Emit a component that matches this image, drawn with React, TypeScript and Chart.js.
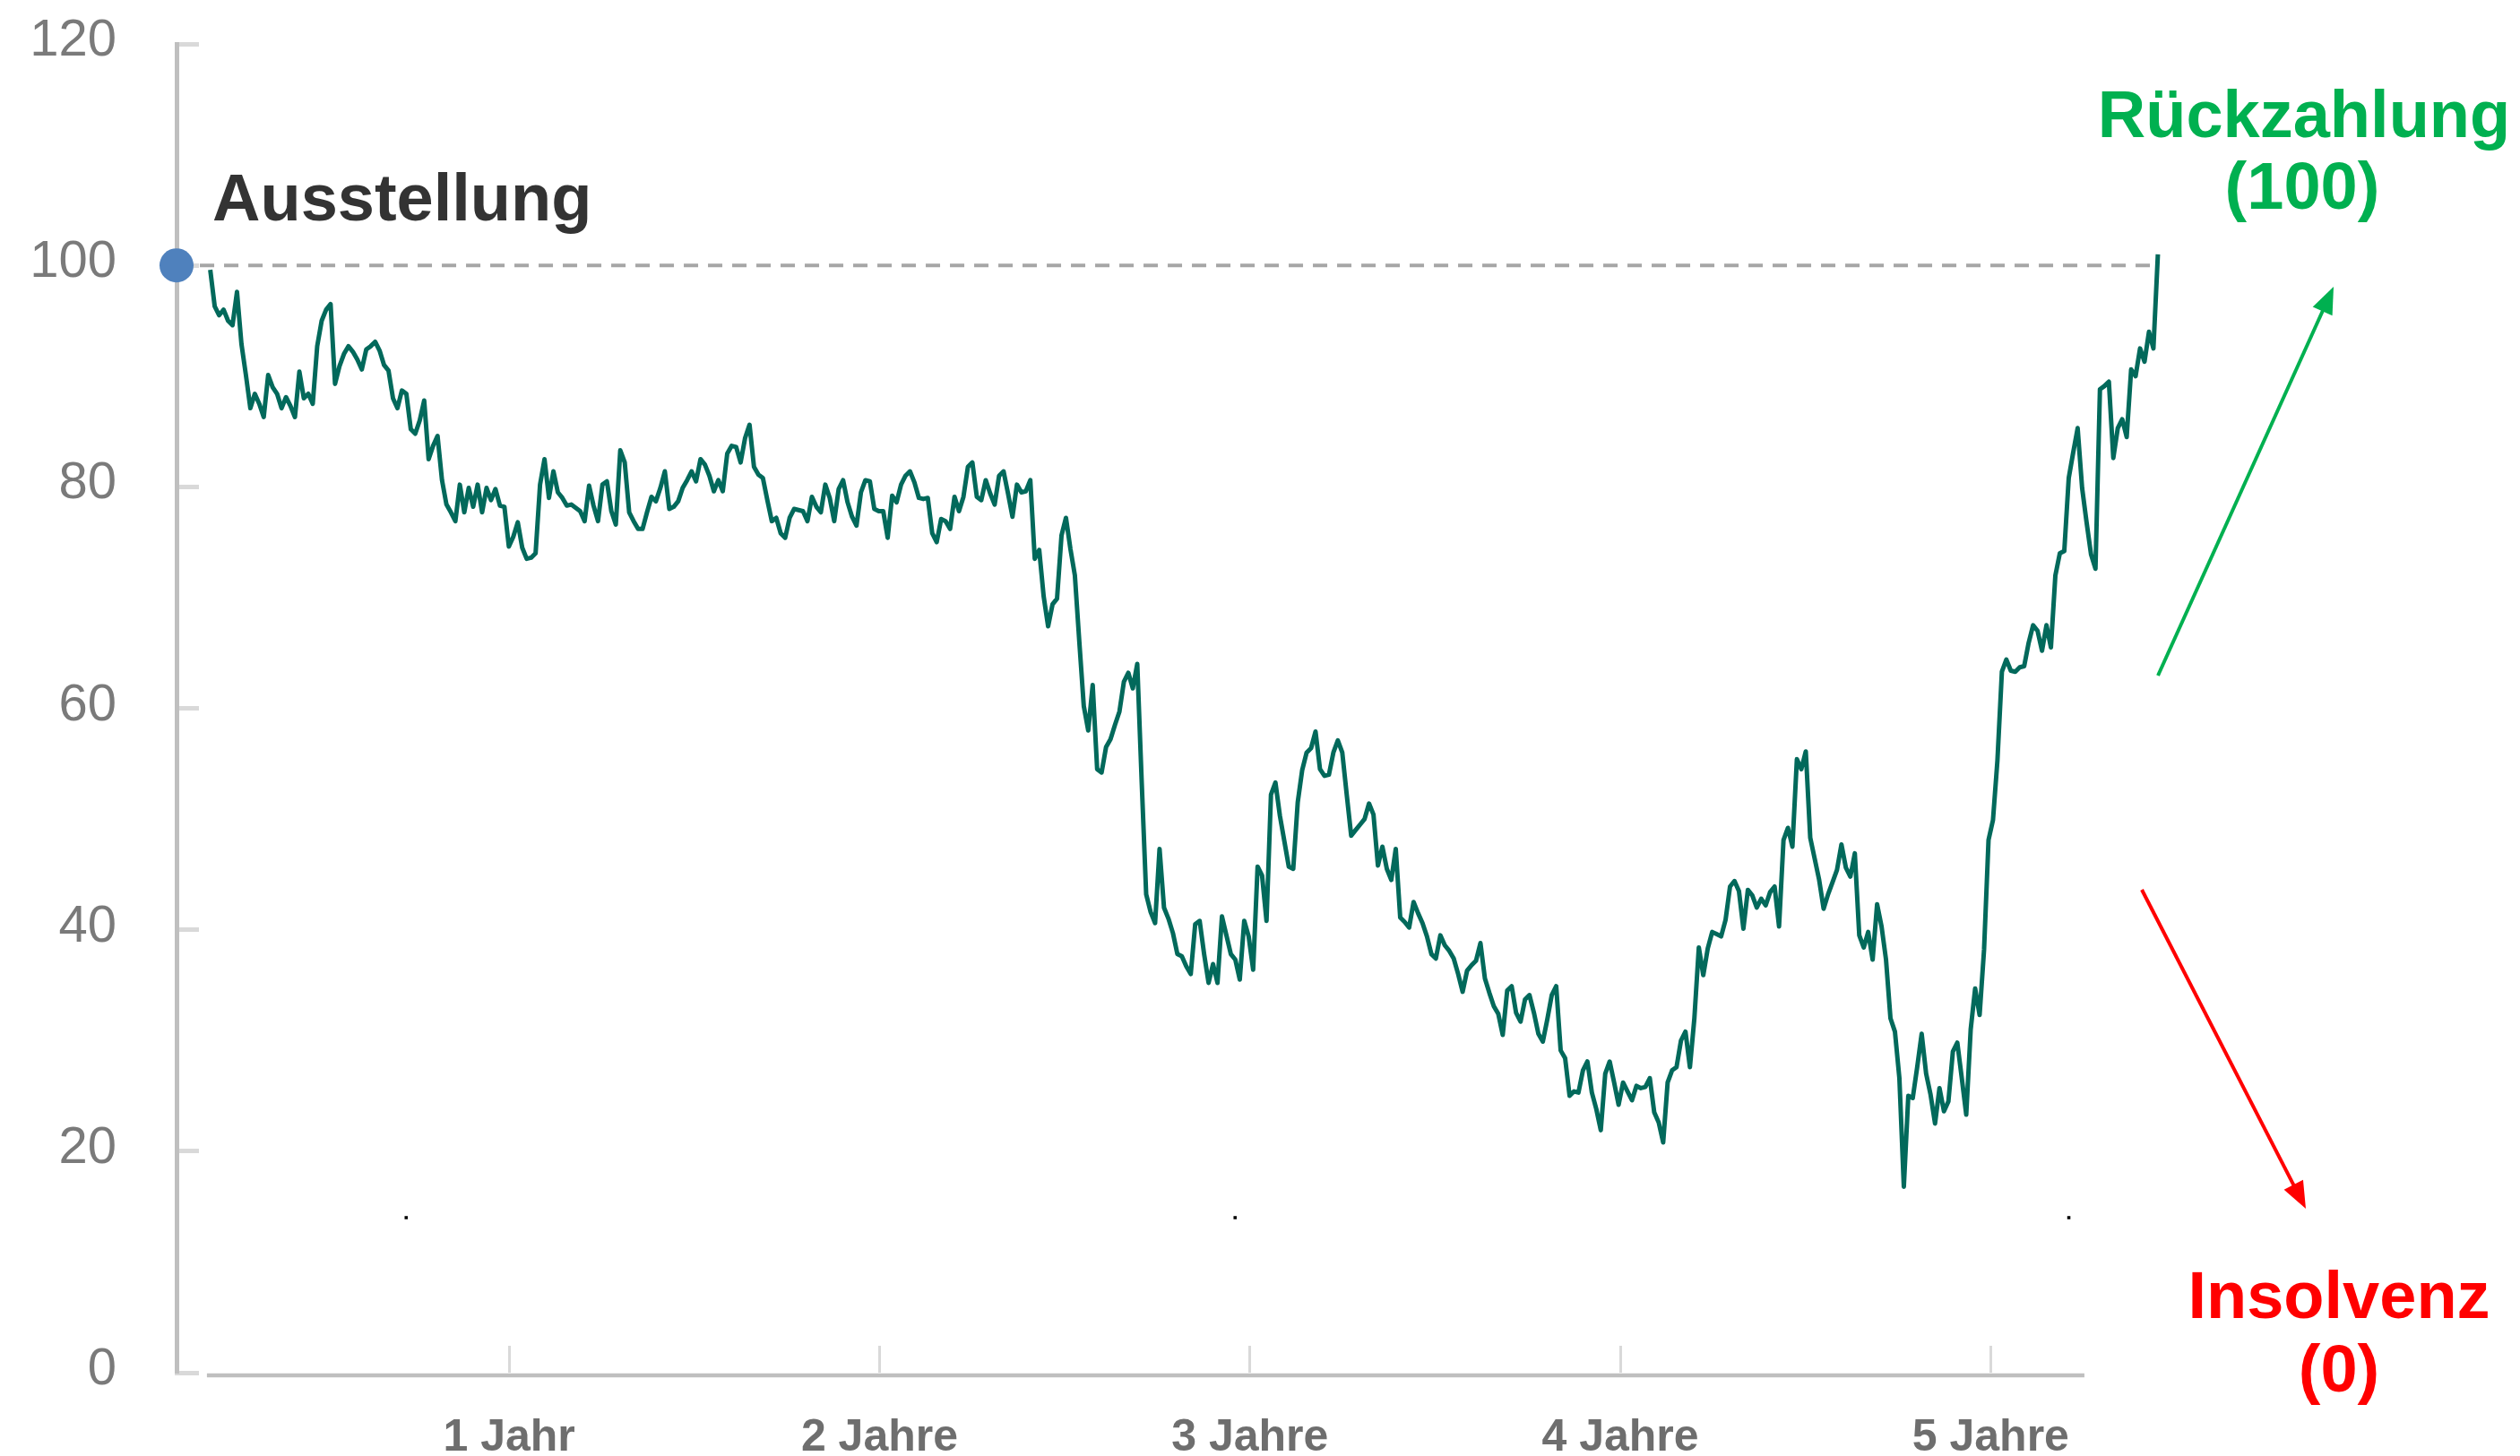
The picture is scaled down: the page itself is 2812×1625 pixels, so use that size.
import React, { useEffect, useRef } from "react";
import { Chart, registerables } from "chart.js";

Chart.register(...registerables);

// ---------- data ----------
const X_TICKS = [1, 2, 3, 4, 5];
const X_TICK_LABELS = ["1 Jahr", "2 Jahre", "3 Jahre", "4 Jahre", "5 Jahre"];
const Y_MIN = 0;
const Y_MAX = 120;
const Y_STEP = 20;
const X_MIN = 0.102; // years
const X_MAX = 5.5; // years

// observation dates: first observation (years after issue) and spacing between observations
const FIRST_OBS_YEAR = 0.193;
const OBS_STEP_YEARS = 0.012033;

// bond price (per cent of nominal), one reading per observation
const PRICES = [
  99.6, 96.3, 95.5, 96.0, 95.0, 94.6, 97.6, 92.9, 90.1, 87.1,
  88.4, 87.5, 86.3, 90.1, 89.0, 88.4, 87.1, 88.1, 87.3, 86.3,
  90.4, 88.0, 88.4, 87.5, 92.7, 95.0, 96.0, 96.5, 89.3, 90.9,
  92.0, 92.7, 92.2, 91.5, 90.6, 92.4, 92.7, 93.1, 92.3, 91.0,
  90.5, 88.0, 87.1, 88.7, 88.4, 85.2, 84.8, 86.0, 87.8, 82.5,
  83.7, 84.6, 80.6, 78.4, 77.7, 76.9, 80.2, 77.7, 79.9, 78.2,
  80.2, 77.7, 79.9, 78.8, 79.8, 78.3, 78.2, 74.6, 75.5, 76.8,
  74.5, 73.5, 73.6, 74.0, 80.2, 82.5, 79.0, 81.4, 79.5, 79.0,
  78.3, 78.4, 78.1, 77.8, 76.9, 80.1, 78.3, 76.9, 80.2, 80.5,
  77.8, 76.6, 83.3, 82.2, 77.7, 76.9, 76.2, 76.2, 77.7, 79.1,
  78.7, 79.9, 81.4, 78.0, 78.2, 78.7, 79.9, 80.6, 81.4, 80.5,
  82.5, 82.0, 81.0, 79.6, 80.6, 79.6, 83.0, 83.7, 83.6, 82.2,
  84.4, 85.6, 81.8, 81.1, 80.8, 78.8, 76.9, 77.2, 75.8, 75.4,
  77.2, 78.0, 77.9, 77.8, 76.9, 79.1, 78.2, 77.7, 80.2, 79.0,
  76.9, 79.8, 80.6, 78.6, 77.3, 76.5, 79.5, 80.6, 80.5, 78.0,
  77.8, 77.8, 75.4, 79.2, 78.6, 80.2, 81.0, 81.4, 80.4, 79.0,
  78.9, 79.0, 75.8, 75.0, 77.1, 76.9, 76.2, 79.1, 77.8, 79.1,
  81.8, 82.2, 79.1, 78.8, 80.6, 79.4, 78.4, 81.0, 81.4, 79.4,
  77.3, 80.2, 79.5, 79.6, 80.6, 73.5, 74.3, 70.1, 67.4, 69.4,
  69.9, 75.6, 77.2, 74.4, 72.0, 66.0, 60.2, 58.0, 62.1, 54.5,
  54.2, 56.5, 57.2, 58.5, 59.7, 62.4, 63.2, 61.8, 64.0, 53.3,
  43.2, 41.6, 40.6, 47.3, 42.0, 41.0, 39.7, 37.8, 37.6, 36.7,
  36.0, 40.5, 40.8, 37.8, 35.2, 36.9, 35.2, 41.2, 39.5, 37.8,
  37.3, 35.5, 40.8, 39.4, 36.4, 45.7, 44.9, 40.8, 52.2, 53.3,
  50.3, 48.0, 45.7, 45.5, 51.5, 54.4, 56.0, 56.4, 57.9, 54.5,
  53.9, 54.0, 56.0, 57.1, 56.0, 52.2, 48.5, 49.0, 49.5, 50.0,
  51.4, 50.4, 45.8, 47.5, 45.5, 44.5, 47.3, 41.1, 40.7, 40.2,
  42.5, 41.5, 40.6, 39.4, 37.8, 37.4, 39.5, 38.6, 38.1, 37.4,
  36.0, 34.4, 36.3, 36.8, 37.2, 38.8, 35.6, 34.3, 33.1, 32.4,
  30.5, 34.5, 34.9, 32.5, 31.7, 33.7, 34.1, 32.5, 30.6, 29.9,
  31.9, 34.1, 34.9, 29.1, 28.4, 25.0, 25.4, 25.3, 27.3, 28.1,
  25.3, 23.8, 21.9, 27.0, 28.1, 26.2, 24.2, 26.2, 25.4, 24.6,
  25.9, 25.7, 25.8, 26.6, 23.5, 22.6, 20.8, 26.2, 27.3, 27.6,
  30.0, 30.8, 27.6, 32.0, 38.4, 35.9, 38.3, 39.8, 39.6, 39.4,
  40.9, 43.9, 44.4, 43.5, 40.1, 43.6, 43.1, 42.0, 42.8, 42.2,
  43.4, 43.9, 40.3, 48.1, 49.2, 47.5, 55.4, 54.5, 56.1, 48.3,
  46.4, 44.5, 41.9, 43.2, 44.3, 45.4, 47.7, 45.6, 44.8, 46.9,
  39.5, 38.4, 39.8, 37.3, 42.3, 40.3, 37.3, 32.0, 30.8, 26.6,
  16.8, 25.0, 24.8, 27.6, 30.6, 27.0, 25.1, 22.5, 25.7, 23.6,
  24.5, 29.0, 29.8, 26.6, 23.3, 31.0, 34.7, 32.3, 38.2, 48.1,
  49.9, 55.3, 63.3, 64.4, 63.4, 63.3, 63.7, 63.8, 65.9, 67.5,
  67.0, 65.2, 67.5, 65.5, 72.0, 74.0, 74.2, 80.8, 83.1, 85.3,
  79.9, 76.8, 73.9, 72.6, 88.8, 89.1, 89.5, 82.6, 85.3, 86.1,
  84.5, 90.6, 90.0, 92.5, 91.3, 94.0, 92.5, 101.0,
];

// issue point (Ausstellung) at par
const ISSUE_YEAR = [0.102];
const ISSUE_PRICE = [100];
// dashed par line (100) from issue to maturity
const PAR_YEARS = [0.165, 5.451];
const PAR_PRICES = [100, 100];
// small black marks in the picture
const MARK_YEARS = [0.722, 2.96, 5.211];
const MARK_VALUES = [14, 14, 14];
// extent of the drawn horizontal axis line, in years
const AXIS_LINE_YEARS = [0.184, 5.253];

// ---------- styles ----------
const FONT = '"Liberation Sans", Arial, Helvetica, sans-serif';
const LINE_COLOR = "#02695B";
const GREEN = "#00B050";
const RED = "#FF0000";

function arrow(ctx: CanvasRenderingContext2D, x1: number, y1: number, x2: number, y2: number, color: string) {
  const dx = x2 - x1;
  const dy = y2 - y1;
  const len = Math.hypot(dx, dy);
  const ux = dx / len;
  const uy = dy / len;
  const headL = 30;
  const headW = 12;
  const bx = x2 - ux * headL;
  const by = y2 - uy * headL;
  ctx.save();
  ctx.strokeStyle = color;
  ctx.fillStyle = color;
  ctx.lineWidth = 4;
  ctx.beginPath();
  ctx.moveTo(x1, y1);
  ctx.lineTo(bx + ux * 2, by + uy * 2);
  ctx.stroke();
  ctx.beginPath();
  ctx.moveTo(x2, y2);
  ctx.lineTo(bx - uy * headW, by + ux * headW);
  ctx.lineTo(bx + uy * headW, by - ux * headW);
  ctx.closePath();
  ctx.fill();
  ctx.restore();
}

const annotations = {
  id: "annotations",
  beforeDatasetsDraw(chart: any) {
    const { ctx, scales } = chart;
    const x = scales.x;
    const y = scales.y;
    const py = y.getPixelForValue(0) + 3;
    ctx.save();
    ctx.strokeStyle = "#BFBFBF";
    ctx.lineWidth = 4.5;
    ctx.beginPath();
    ctx.moveTo(x.getPixelForValue(AXIS_LINE_YEARS[0]), py);
    ctx.lineTo(x.getPixelForValue(AXIS_LINE_YEARS[1]), py);
    ctx.stroke();
    ctx.restore();
  },
  afterDraw(chart: any) {
    const { ctx } = chart;
    ctx.save();
    ctx.font = `bold 74px ${FONT}`;
    ctx.textBaseline = "alphabetic";

    ctx.fillStyle = "#333333";
    ctx.textAlign = "left";
    ctx.fillText("Ausstellung", 237, 246);

    ctx.fillStyle = GREEN;
    ctx.textAlign = "center";
    ctx.fillText("Rückzahlung", 2571, 153);
    ctx.fillText("(100)", 2569, 233);

    ctx.fillStyle = RED;
    ctx.fillText("Insolvenz", 2610, 1471);
    ctx.fillText("(0)", 2610, 1553);
    ctx.restore();

    arrow(ctx, 2408, 754, 2604, 320, GREEN);
    arrow(ctx, 2390, 993, 2573, 1349, RED);
  },
};

export default function App() {
  const canvasRef = useRef<HTMLCanvasElement>(null);

  useEffect(() => {
    const canvas = canvasRef.current;
    if (!canvas) return;
    Chart.defaults.font.family = FONT;

    const priceData = PRICES.map((v, i) => ({ x: FIRST_OBS_YEAR + i * OBS_STEP_YEARS, y: v }));
    const parData = PAR_YEARS.map((t, i) => ({ x: t, y: PAR_PRICES[i] }));
    const issueData = ISSUE_YEAR.map((t, i) => ({ x: t, y: ISSUE_PRICE[i] }));
    const markData = MARK_YEARS.map((t, i) => ({ x: t, y: MARK_VALUES[i] }));

    const chart = new Chart(canvas, {
      type: "line",
      data: {
        datasets: [
          {
            label: "Par",
            data: parData,
            borderColor: "#A6A6A6",
            borderWidth: 4,
            borderDash: [16, 11],
            pointRadius: 0,
            order: 4,
          },
          {
            label: "Kurs",
            data: priceData,
            borderColor: LINE_COLOR,
            borderWidth: 5,
            borderJoinStyle: "round",
            pointRadius: 0,
            tension: 0,
            order: 3,
          },
          {
            label: "Ausstellung",
            data: issueData,
            showLine: false,
            pointRadius: 19,
            pointBackgroundColor: "#4F81BD",
            pointBorderWidth: 0,
            clip: false,
            order: 2,
          },
          {
            label: "Marks",
            data: markData,
            showLine: false,
            pointStyle: "rect",
            pointRadius: 2.5,
            pointBackgroundColor: "#000000",
            pointBorderWidth: 0,
            order: 1,
          },
        ] as any,
      },
      options: {
        animation: false,
        responsive: true,
        maintainAspectRatio: false,
        devicePixelRatio: 1,
        events: [],
        layout: { padding: { left: 0, right: 384, top: 49, bottom: 0 } },
        plugins: { legend: { display: false }, tooltip: { enabled: false } },
        scales: {
          x: {
            type: "linear",
            min: X_MIN,
            max: X_MAX,
            afterBuildTicks: (scale: any) => {
              scale.ticks = X_TICKS.map((v) => ({ value: v }));
            },
            afterFit: (scale: any) => {
              scale.height = 93;
              scale.paddingLeft = 0;
              scale.paddingRight = 0;
              scale.paddingTop = 0;
              scale.paddingBottom = 0;
            },
            border: { display: false },
            grid: {
              display: true,
              drawOnChartArea: false,
              drawTicks: true,
              tickLength: -30,
              tickColor: "#D9D9D9",
              tickWidth: 3,
              color: "#D9D9D9",
            },
            ticks: {
              autoSkip: false,
              maxRotation: 0,
              padding: 73,
              color: "#6E6E6E",
              font: { size: 50, weight: "bold" },
              callback: (value: any) => {
                const i = X_TICKS.indexOf(Number(value));
                return i >= 0 ? X_TICK_LABELS[i] : "";
              },
            },
          },
          y: {
            type: "linear",
            min: Y_MIN,
            max: Y_MAX,
            afterFit: (scale: any) => {
              scale.width = 197;
              scale.paddingLeft = 0;
              scale.paddingRight = 0;
              scale.paddingTop = 0;
              scale.paddingBottom = 0;
            },
            border: { display: true, color: "#BFBFBF", width: 5 },
            grid: {
              display: true,
              drawOnChartArea: false,
              drawTicks: true,
              tickLength: -25,
              tickColor: "#D9D9D9",
              tickWidth: 5,
              color: "#D9D9D9",
            },
            ticks: {
              stepSize: Y_STEP,
              padding: 92,
              labelOffset: -3,
              color: "#7A7A7A",
              font: { size: 58, weight: "normal" },
            },
          },
        },
      } as any,
      plugins: [annotations],
    });

    return () => chart.destroy();
  }, []);

  return (
    <div
      style={{
        position: "fixed",
        left: 0,
        top: 0,
        width: "2812px",
        height: "1625px",
        background: "#ffffff",
      }}
    >
      <canvas ref={canvasRef} />
    </div>
  );
}
